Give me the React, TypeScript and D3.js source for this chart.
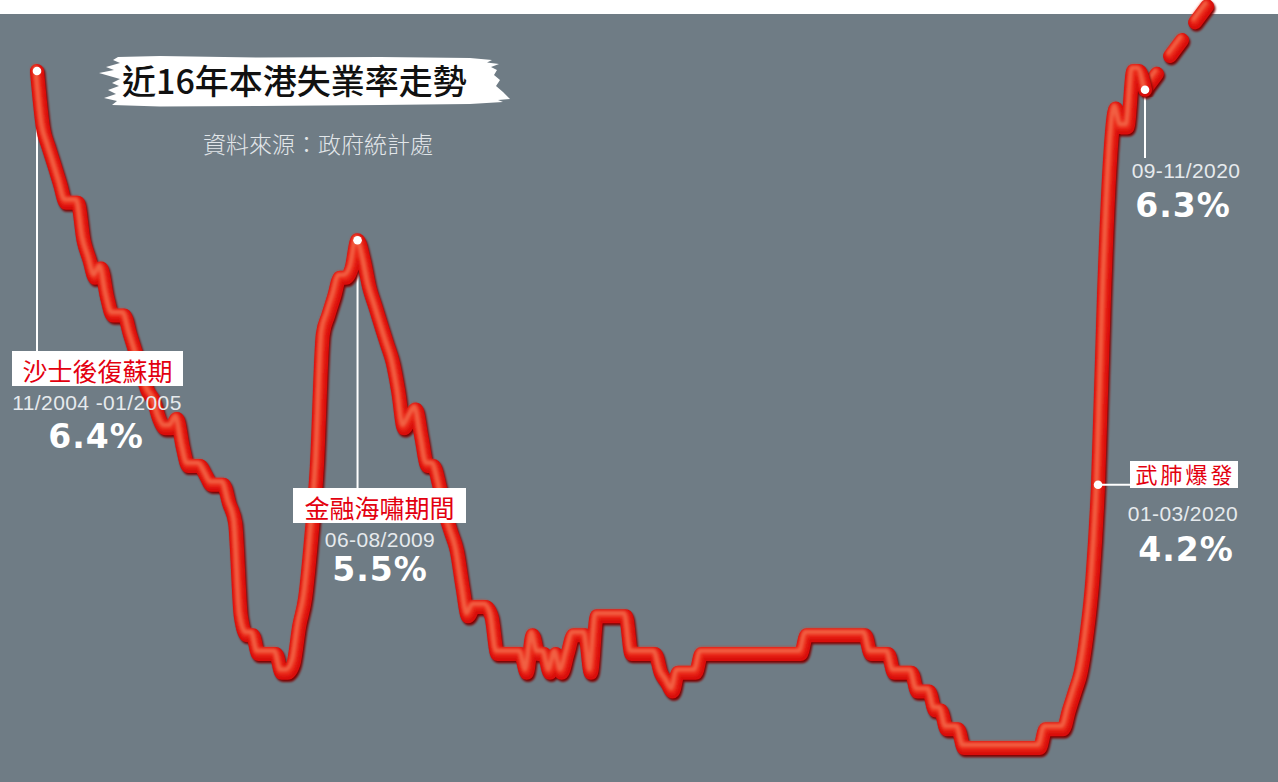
import React from "react";
import * as d3 from "d3";

const WIDTH = 1278;
const HEIGHT = 782;

// Seasonally adjusted 3-month moving average unemployment rate (%),
// one value per rolling period, keyed by the last month of the period.
const firstPeriodEnd = new Date(2005, 0, 1);
const rates2005 = [6.4, 6.1, 6.0, 5.9, 5.8, 5.7, 5.7, 5.7, 5.5, 5.4, 5.3, 5.35];
const rates2006 = [5.2, 5.1, 5.1, 5.1, 5.0, 4.9, 4.8, 4.7, 4.65, 4.55, 4.5, 4.5];
const rates2007 = [4.55, 4.4, 4.3, 4.3, 4.3, 4.25, 4.2, 4.2, 4.2, 4.1, 4.0, 3.5];
const rates2008 = [3.4, 3.4, 3.3, 3.3, 3.3, 3.3, 3.2, 3.2, 3.25, 3.45, 3.6, 3.9];
const rates2009 = [4.3, 5.0, 5.1, 5.2, 5.3, 5.3, 5.35, 5.5, 5.4, 5.25, 5.15, 5.05];
const rates2010 = [4.95, 4.85, 4.7, 4.5, 4.55, 4.6, 4.45, 4.3, 4.3, 4.2, 4.05, 3.95];
const rates2011 = [3.85, 3.65, 3.5, 3.55, 3.55, 3.55, 3.5, 3.3, 3.3, 3.3, 3.3, 3.3];
const rates2012 = [3.2, 3.4, 3.3, 3.3, 3.2, 3.3, 3.2, 3.3, 3.4, 3.4, 3.4, 3.2];
const rates2013 = [3.5, 3.5, 3.5, 3.5, 3.5, 3.5, 3.3, 3.3, 3.3, 3.3, 3.3, 3.2];
const rates2014 = [3.15, 3.1, 3.2, 3.2, 3.2, 3.2, 3.3, 3.3, 3.3, 3.3, 3.3, 3.3];
const rates2015 = [3.3, 3.3, 3.3, 3.3, 3.3, 3.3, 3.3, 3.3, 3.3, 3.3, 3.3, 3.3];
const rates2016 = [3.4, 3.4, 3.4, 3.4, 3.4, 3.4, 3.4, 3.4, 3.4, 3.4, 3.4, 3.3];
const rates2017 = [3.3, 3.3, 3.3, 3.2, 3.2, 3.2, 3.2, 3.1, 3.1, 3.1, 3.0, 3.0];
const rates2018 = [2.9, 2.9, 2.9, 2.8, 2.8, 2.8, 2.8, 2.8, 2.8, 2.8, 2.8, 2.8];
const rates2019 = [2.8, 2.8, 2.8, 2.8, 2.8, 2.9, 2.9, 2.9, 2.9, 3.0, 3.1, 3.2];
const rates2020 = [3.4, 3.7, 4.2, 5.2, 5.9, 6.2, 6.1, 6.1, 6.4, 6.4, 6.3];

const unemploymentRate = [
  ...rates2005, ...rates2006, ...rates2007, ...rates2008, ...rates2009,
  ...rates2010, ...rates2011, ...rates2012, ...rates2013, ...rates2014,
  ...rates2015, ...rates2016, ...rates2017, ...rates2018, ...rates2019,
  ...rates2020,
];
const periodEnds = unemploymentRate.map((_, i) => d3.timeMonth.offset(firstPeriodEnd, i));

// Dashed outlook beyond the latest figure
const outlookPeriodEnds = [new Date(2020, 10, 1), new Date(2021, 10, 1)];
const outlookRate = [6.3, 6.8];

const titleText = "近16年本港失業率走勢";
const sourceText = "資料來源：政府統計處";

const calloutPeriodEnds = [new Date(2005, 0, 1), new Date(2009, 7, 1), new Date(2020, 2, 1), new Date(2020, 10, 1)];
const calloutRates = [6.4, 5.5, 4.2, 6.3];
const calloutRanges = ["11/2004 -01/2005", "06-08/2009", "01-03/2020", "09-11/2020"];
const calloutNames = ["沙士後復蘇期", "金融海嘯期間", "武肺爆發"];

const x = d3.scaleTime().domain([new Date(2005, 0, 1), new Date(2020, 10, 1)]).range([37, 1145]);
const y = d3.scaleLinear().domain([2.8, 6.4]).range([748, 71]);

const line = d3
  .line<number>()
  .x((_, i) => x(periodEnds[i]))
  .y((v) => y(v))
  .curve(d3.curveMonotoneX);

const outlookLine = d3
  .line<number>()
  .x((_, i) => x(outlookPeriodEnds[i]))
  .y((v) => y(v));

const CJK = "'Noto Sans CJK TC', 'Noto Sans CJK SC', sans-serif";
const LATIN = "'Liberation Sans', Arial, sans-serif";
const HEAVY = "'DejaVu Sans', 'Liberation Sans', sans-serif";

// A shaded "tube": dark underside, red body, warm highlight along the top edge.
function Tube({ d, dash }: { d: string; dash?: string }) {
  return (
    <g fill="none" strokeLinecap="round" strokeLinejoin="round" strokeDasharray={dash}>
      <path d={d} stroke="#7e0006" strokeWidth={14} transform="translate(1.4,2.2)" filter="url(#soft)" />
      <path d={d} stroke="#d80d0b" strokeWidth={14} />
      <path d={d} stroke="#ea2715" strokeWidth={9} transform="translate(-0.8,-1.6)" filter="url(#soft2)" />
      <path d={d} stroke="#f36a4c" strokeWidth={4.5} transform="translate(-1.6,-3.2)" filter="url(#soft2)" opacity={0.85} />
    </g>
  );
}

function NameBox({ cx, top, w, h, size, spacing, text }: { cx: number; top: number; w: number; h: number; size: number; spacing: number; text: string }) {
  return (
    <g>
      <rect x={cx - w / 2} y={top} width={w} height={h} fill="#ffffff" />
      <text x={cx + spacing / 2} y={top + h - 0.22 * size} textAnchor="middle" fontFamily={CJK} fontSize={size} letterSpacing={spacing} fill="#e3000f">
        {text}
      </text>
    </g>
  );
}

function Range({ cx, base, text }: { cx: number; base: number; text: string }) {
  return (
    <text x={cx} y={base} textAnchor="middle" fontFamily={LATIN} fontSize={21} letterSpacing={0.4} fill="#e6eaed">
      {text}
    </text>
  );
}

function Pct({ cx, base, value }: { cx: number; base: number; value: number }) {
  return (
    <text x={cx} y={base} textAnchor="middle" fontFamily={HEAVY} fontWeight={700} fontSize={33} letterSpacing={1} fill="#ffffff">
      {value.toFixed(1)}%
    </text>
  );
}

export default function App() {
  const pts = calloutPeriodEnds.map((d, i) => [x(d), y(calloutRates[i])]);
  const brush =
    "M118,57 L160,56 L260,57.5 L380,57 L470,58 L492,60 L487,62.5 L499,64 L491,67 L497,70 L494,75 L500,80 L496,86 L503,92 L510,99 L498,100 L503,102 L470,104 L380,105 L260,106 L160,106.5 L112,105 L117,101 L104,98 L116,94 L108,90 L119,86 L112,83 L120,79 L99,73 L114,70 L106,67 L120,63 L113,60 Z";

  return (
    <div style={{ position: "absolute", left: 0, top: 0 }}>
      <svg width={WIDTH} height={HEIGHT} style={{ display: "block" }}>
        <defs>
          <filter id="soft" x="-5%" y="-5%" width="110%" height="110%">
            <feGaussianBlur stdDeviation={1} />
          </filter>
          <filter id="soft2" x="-5%" y="-5%" width="110%" height="110%">
            <feGaussianBlur stdDeviation={1.6} />
          </filter>
        </defs>
        <rect x={0} y={0} width={WIDTH} height={HEIGHT} fill="#ffffff" />
        <rect x={0} y={14} width={WIDTH} height={HEIGHT - 14} fill="#6f7c85" />

        {/* heading */}
        <path d={brush} fill="#ffffff" />
        <text x={122} y={94} fontFamily={CJK} fontSize={34} fontWeight={500} fill="#111111">
          {titleText}
        </text>
        <text x={203} y={153} fontFamily={CJK} fontSize={23} fontWeight={300} fill="#e2e6e9">
          {sourceText}
        </text>

        {/* leader lines */}
        <g stroke="#ffffff" strokeWidth={2}>
          <line x1={pts[0][0]} y1={pts[0][1]} x2={pts[0][0]} y2={351} />
          <line x1={pts[1][0]} y1={pts[1][1]} x2={pts[1][0]} y2={488} />
          <line x1={pts[3][0]} y1={pts[3][1]} x2={pts[3][0]} y2={158} />
        </g>

        {/* series */}
        <Tube d={outlookLine(outlookRate) || ""} dash="20 22" />
        <Tube d={line(unemploymentRate) || ""} />

        <line x1={pts[2][0]} y1={pts[2][1]} x2={1131} y2={pts[2][1]} stroke="#ffffff" strokeWidth={2} />
        {pts.map((p, i) => (
          <circle key={i} cx={p[0]} cy={p[1]} r={4.3} fill="#ffffff" />
        ))}

        {/* callouts */}
        <NameBox cx={97.5} top={351} w={171} h={35} size={25} spacing={0} text={calloutNames[0]} />
        <Range cx={97} base={410} text={calloutRanges[0]} />
        <Pct cx={96} base={448} value={calloutRates[0]} />

        <NameBox cx={379.5} top={488} w={173} h={35} size={25} spacing={0} text={calloutNames[1]} />
        <Range cx={380} base={547} text={calloutRanges[1]} />
        <Pct cx={380} base={581} value={calloutRates[1]} />

        <NameBox cx={1184} top={461} w={108} h={27} size={22} spacing={3} text={calloutNames[2]} />
        <Range cx={1183} base={521} text={calloutRanges[2]} />
        <Pct cx={1186} base={561} value={calloutRates[2]} />

        <Range cx={1186} base={178} text={calloutRanges[3]} />
        <Pct cx={1183} base={217} value={calloutRates[3]} />
      </svg>
    </div>
  );
}
